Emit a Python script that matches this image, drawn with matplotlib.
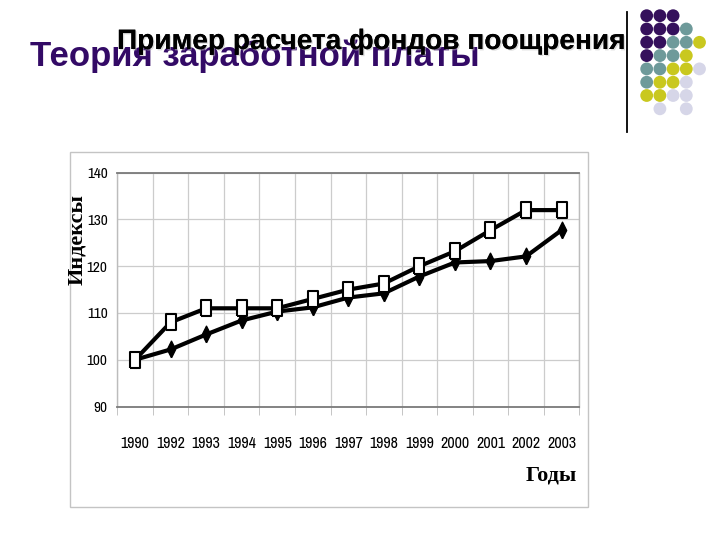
#!/usr/bin/env python3
"""Slide: wage theory, bonus fund index chart (1990-2003)."""

import matplotlib.pyplot as plt
from matplotlib.patches import Rectangle
import matplotlib.patheffects as pe

W, H = 720, 540

years = ["1990", "1992", "1993", "1994", "1995", "1996", "1997",
         "1998", "1999", "2000", "2001", "2002", "2003"]
series_squares = [100, 108, 111, 111, 111, 113, 115, 116.3, 120, 123.2, 127.7, 132, 132]
series_diamonds = [100, 102.2, 105.4, 108.4, 110.3, 111.2, 113.3, 114.2, 117.8, 120.8, 121.1, 122.1, 127.7]
y_ticks = [90, 100, 110, 120, 130, 140]

slide_title = "Теория заработной платы"
chart_title = "Пример расчета фондов поощрения"
y_label = "Индексы"
x_label = "Годы"

# decorative dot grid in the top-right corner (P purple, T teal, Y yellow, L lavender)
dot_rows = ["PPP..", "PPPT.", "PPTTY", "PTTY.", "TTYYL", "TYYL.", "YYLL.", ".L.L."]
dot_colors = {"P": "#35105c", "T": "#6e9a9a", "Y": "#c9c81f", "L": "#d6d6e8"}

narrow = ["Archivo Narrow", "Liberation Sans", "DejaVu Sans"]


def fx(x):
    return x / W


def fy(y):
    return 1 - y / H


fig = plt.figure(figsize=(7.2, 5.4), dpi=100)

# slide decoration layer in pixel coords
deco = fig.add_axes([0, 0, 1, 1])
deco.set_xlim(0, W)
deco.set_ylim(H, 0)
deco.axis("off")
for r, row in enumerate(dot_rows):
    for c, code in enumerate(row):
        if code == ".":
            continue
        deco.scatter(646.7 + c * 13.2, 15.7 + r * 13.3, s=85, color=dot_colors[code],
                     edgecolors="none")
deco.plot([627, 627], [12, 132], color="black", lw=1.3)
deco.add_patch(Rectangle((70, 152), 518, 355, fill=False, edgecolor="#c4c4c4", lw=1))

fig.text(fx(30), fy(66), slide_title, fontsize=25, fontweight="bold",
         family="Liberation Sans", color="#330a66", va="baseline", ha="left")
fig.text(fx(117), fy(49), chart_title, fontsize=20.2, fontweight="bold",
         family="Liberation Sans", color="black", va="baseline", ha="left",
         path_effects=[pe.withSimplePatchShadow(offset=(1, -1), shadow_rgbFace="#bbbbbb",
                                                alpha=0.5), pe.Normal()])

# chart
ax = fig.add_axes([fx(117.3), fy(406.5), (579.3 - 117.3) / W, (406.5 - 172.7) / H])
xs = list(range(len(years)))
ax.plot(xs, series_diamonds, color="black", lw=3,
        marker=[(0, -1), (0.5, 0), (0, 1), (-0.5, 0), (0, -1)], ms=12,
        markerfacecolor="black", markeredgecolor="black", zorder=3)
ax.plot(xs, series_squares, color="black", lw=3,
        marker=[(-0.55, -1), (0.55, -1), (0.55, 1), (-0.55, 1), (-0.55, -1)], ms=12,
        markerfacecolor="white", markeredgecolor="black", markeredgewidth=1.5, zorder=4)

ax.set_xlim(-0.5, len(years) - 0.5)
ax.set_ylim(90, 140)
ax.set_yticks(y_ticks)
ax.set_yticklabels([str(v) for v in y_ticks], family=narrow, fontsize=11)
ax.set_xticks(xs)
ax.set_xticklabels(years, family=narrow, fontsize=11.5)
ax.set_xticks([i - 0.5 for i in range(len(years) + 1)], minor=True)
ax.tick_params(axis="x", which="major", length=0, pad=21)
ax.tick_params(axis="x", which="minor", length=6, color="#bcbcbc", direction="out")
ax.tick_params(axis="y", length=0, pad=7)

ax.grid(axis="y", color="#cccccc", lw=0.9)
ax.grid(axis="x", which="minor", color="#cccccc", lw=0.9)
ax.set_axisbelow(True)
for side in ["top", "bottom"]:
    ax.spines[side].set_color("#7a7a7a")
    ax.spines[side].set_linewidth(1.3)
for side in ["left", "right"]:
    ax.spines[side].set_color("#bcbcbc")
    ax.spines[side].set_linewidth(1)

fig.text(fx(77), fy(240), y_label, rotation=90, fontsize=16, fontweight="bold",
         family="Liberation Serif", ha="center", va="center")
fig.text(fx(551), fy(476), x_label, fontsize=16, fontweight="bold",
         family="Liberation Serif", ha="center", va="center")

fig.savefig("out.png", dpi=100)
